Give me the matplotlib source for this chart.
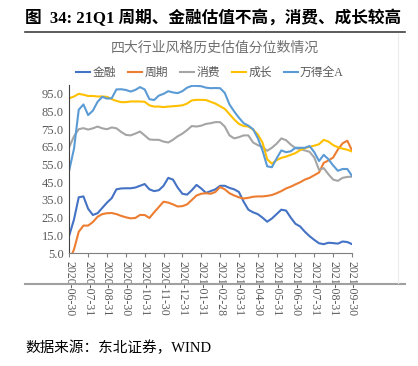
import matplotlib
matplotlib.use('Agg')
import matplotlib.pyplot as plt
from matplotlib.lines import Line2D

plt.rcParams['font.family'] = ['Liberation Serif', 'Noto Sans CJK SC', 'DejaVu Sans']

# month-end tick labels
dates = ['2020-06-30', '2020-07-31', '2020-08-31', '2020-09-30', '2020-10-31',
         '2020-11-30', '2020-12-31', '2021-01-31', '2021-02-28', '2021-03-31',
         '2021-04-30', '2021-05-31', '2021-06-30', '2021-07-31', '2021-08-31',
         '2021-09-30']

# positions in months since 2020-06-30 (quarter-month steps)
x = [i * 0.25 for i in range(61)]

jinrong = [15, 24, 36.5, 37, 30, 26.5, 27.5, 30.5, 33.5, 36, 41, 41.5, 41.6, 41.6, 42, 43,
           44, 41, 40, 40.5, 43, 47.5, 46.5, 42, 38.5, 38, 40.5, 43.5, 41.5, 39, 40, 41,
           43, 43, 41.8, 41, 39.5, 34, 29.5, 28, 27, 25, 22.7, 24.5, 27, 29.5, 29, 25,
           21.5, 20, 17, 14.5, 12.4, 10.5, 10, 10.8, 10.6, 10.3, 11.5, 11.2, 10]
zhouqi = [1, 7, 17, 20.5, 20.5, 22.5, 25.5, 27, 27.5, 27.6, 27, 26, 25.2, 24.6, 24.8, 26.5,
          26.5, 24.8, 28, 31, 34, 33.5, 32.5, 31.3, 31.5, 32.5, 35, 37.5, 38.5, 38.8, 38.5, 39.5,
          42.3, 41, 38.8, 37.5, 36.5, 35.8, 36.2, 36.8, 37, 37, 37.3, 37.8, 38.8, 40, 41.5, 42.5,
          43.8, 45, 46.5, 47.5, 49, 50.5, 56, 57.3, 59, 63.5, 67, 68.5, 63]
xiaofei = [65, 71, 75, 75.6, 74.8, 75.5, 76.5, 75.5, 75, 76, 75.5, 73.5, 71.8, 71.5, 72.5, 73.7,
           71.5, 69.2, 69, 69, 68, 67.5, 69, 71, 72.5, 74.5, 76.8, 76.5, 77, 78, 78.4, 79,
           79, 76.5, 71.5, 69.8, 70.5, 71.5, 71.5, 67.5, 66, 65, 62.8, 64.5, 66.8, 69.8, 68.8, 66.3,
           64.3, 63.8, 63, 62.2, 59, 52, 53, 49.5, 46.5, 45.8, 47.5, 48, 48.2]
chengzhang = [92.5, 93.5, 95, 94.5, 93.8, 93.8, 93.5, 93.5, 93.3, 92, 91, 90.3, 90.3, 90.7, 90.7, 90.7,
              90.5, 88.5, 87.8, 87.8, 87.5, 87.8, 88, 88.2, 88.5, 89.5, 91.3, 91.6, 91.6, 91.5, 90.5, 89.5,
              88, 86.5, 83.5, 80.5, 78, 76.8, 76.5, 74.8, 72, 67.5, 58, 55.5, 57.5, 58.8, 59.5, 60.5,
              61.5, 63.2, 64.3, 65, 65.7, 66.5, 69, 68, 66, 64.8, 64, 63.4, 62.4]
quanA = [52, 64, 86, 89, 83, 85.5, 90.5, 93.3, 92.3, 92.5, 97.5, 97.6, 97.2, 96.3, 97.2, 98.8,
         97.5, 92, 91.5, 94, 95, 96.5, 95.8, 95.4, 96.5, 98.5, 99.5, 99.5, 99.3, 98.5, 98.2, 98.3,
         98.2, 95.5, 89, 85, 81.5, 78.4, 77, 75, 70, 63, 54, 53.5, 58.5, 63, 62, 62.5,
         64.5, 64.5, 64.5, 65.5, 62, 57, 60.5, 58, 54.5, 51.5, 52.5, 52.5, 48.6]

names = ['金融', '周期', '消费', '成长', '万得全A']
colors = ['#4472C4', '#ED7D31', '#A5A5A5', '#FFC000', '#5B9BD5']
series = [jinrong, zhouqi, xiaofei, chengzhang, quanA]

fig = plt.figure(figsize=(4.18, 3.66), dpi=100)
ax = fig.add_axes([69.3 / 418, 1 - 253 / 366, (352 - 69.3) / 418, (253 - 85) / 366])

for s, c in zip(series, colors):
    ax.plot(x, s, color=c, lw=1.5)

ax.set_xlim(0, 15)
ax.set_ylim(5, 100)
ax.set_yticks(range(5, 100, 10))
ax.set_yticklabels(['%.1f' % v for v in range(5, 100, 10)], fontsize=9, color='#595959')
ax.set_xticks(range(16))
ax.set_xticklabels(dates, rotation=-90, fontsize=8.5, color='#595959')
ax.tick_params(axis='y', length=0, pad=4)
ax.tick_params(axis='x', length=3, color='#7f7f7f', pad=3)
for sp in ['top', 'right']:
    ax.spines[sp].set_visible(False)
ax.spines['left'].set_color('#404040')
ax.spines['bottom'].set_color('#7f7f7f')

# title and lines
fig.text(25 / 418, 1 - 18 / 366, '图  34: 21Q1 周期、金融估值不高，消费、成长较高',
         fontsize=12, fontweight='bold', va='center', ha='left')
fig.add_artist(Line2D([25 / 418, 405 / 418], [1 - 32 / 366, 1 - 32 / 366], color='#404040', lw=1.2))
fig.add_artist(Line2D([25 / 418, 405 / 418], [1 - 284 / 366, 1 - 284 / 366], color='#a0a0a0', lw=1.5))
fig.add_artist(Line2D([398 / 418, 398 / 418], [1 - 33 / 366, 1 - 283 / 366], color='#ececec', lw=0.8))
fig.text(215 / 418, 1 - 48 / 366, '四大行业风格历史估值分位数情况', fontsize=10,
         color='#707070', ha='center', va='center')
fig.text(25 / 418, 1 - 348 / 366, '数据来源：东北证券，WIND', fontsize=10.5,
         ha='left', va='center')

handles = [Line2D([], [], color=c, lw=1.5) for c in colors]
leg = fig.legend(handles, names, loc='center', bbox_to_anchor=(210 / 418, 1 - 73 / 366),
                 ncol=5, frameon=False, fontsize=8.5, handlelength=1.2, handletextpad=0.2,
                 columnspacing=1.0)
for t in leg.get_texts():
    t.set_color('#595959')

plt.savefig('out.png', dpi=100)
